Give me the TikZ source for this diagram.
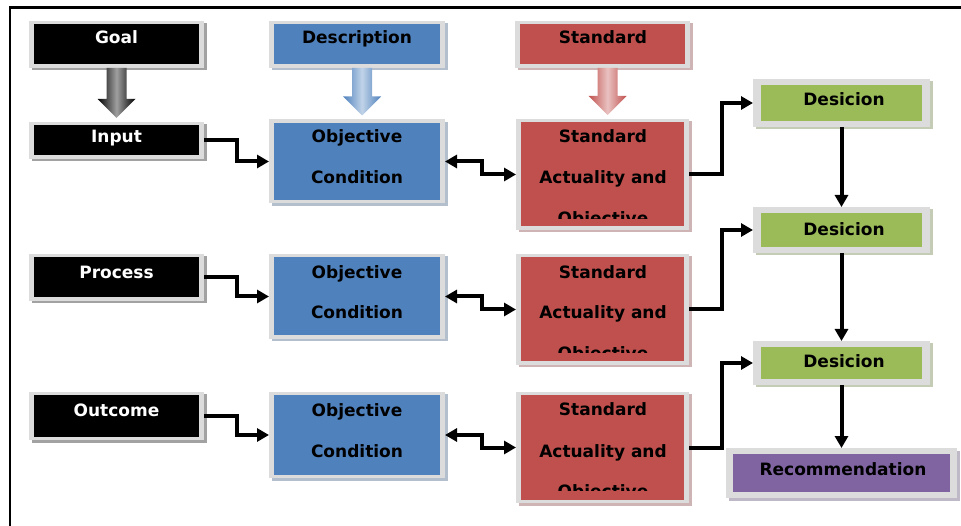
\documentclass[tikz,border=0pt]{standalone}
\usepackage{fontspec}
\setmainfont{DejaVu Sans}
\usetikzlibrary{arrows.meta,calc,shadows}
\definecolor{frameg}{HTML}{DCDCDC}
\definecolor{bblue}{HTML}{4F81BD}
\definecolor{rred}{HTML}{C0504D}
\definecolor{ggreen}{HTML}{9BBB59}
\definecolor{ppurple}{HTML}{8064A2}
\tikzset{
  framex/.store in=\fxx, framey/.store in=\fyy, framex=5pt, framey=3.5pt,
  box/.style={rectangle, inner sep=0pt, outer sep=0pt, fill=frameg,
    drop shadow={shadow xshift=2.5pt, shadow yshift=-2.5pt, fill=#1!45!gray, opacity=0.5},
    path picture={\fill[#1] ([xshift=\fxx,yshift=-\fyy]path picture bounding box.north west)
      rectangle ([xshift=-\fxx,yshift=\fyy]path picture bounding box.south east);}},
  lbl/.style={font=\bfseries\fontsize{17}{17}\selectfont, anchor=base, inner sep=0pt},
  wlbl/.style={lbl, text=white},
  conn/.style={line width=4pt, -{Triangle[length=12pt,width=13pt]}},
  dconn/.style={line width=4pt, {Triangle[length=12pt,width=13pt]}-{Triangle[length=12pt,width=13pt]}},
}
\newcommand\blockarr[5]{%
  \shade[left color=#3, right color=#3, middle color=#4]
    ($(#1.south)+(#5-10,0)$) -- ($(#2.north)+(#5-10,-23)$) -- ($(#2.north)+(#5-19,-23)$)
    -- ($(#2.north)+(#5,-4)$) -- ($(#2.north)+(#5+19,-23)$) -- ($(#2.north)+(#5+10,-23)$)
    -- ($(#1.south)+(#5+10,0)$) -- cycle;}
\begin{document}
\begin{tikzpicture}[x=1pt,y=-1pt]
\useasboundingbox (0,0) rectangle (961,526);
\draw[line width=2.5pt] (10,527) -- (10,7.5) -- (962,7.5);

% black column
\node[box=black, minimum width=175, minimum height=47] (goal) at (116.5,44.5) {};
\node[box=black, minimum width=175, minimum height=37] (input) at (116.5,140.5) {};
\node[box=black, minimum width=175, minimum height=47] (process) at (116.5,277.5) {};
\node[box=black, minimum width=175, minimum height=48] (outcome) at (116.5,416) {};
% blue column
\node[box=bblue, minimum width=176, minimum height=47] (desc) at (357,44.5) {};
\node[box=bblue, minimum width=176, minimum height=84] (obj1) at (357,161.5) {};
\node[box=bblue, minimum width=176, minimum height=85] (obj2) at (357,296.5) {};
\node[box=bblue, minimum width=176, minimum height=86] (obj3) at (357,435) {};
% red column
\node[box=rred, minimum width=175, minimum height=47] (stdtop) at (602.5,44.5) {};
\node[box=rred, minimum width=173, minimum height=111] (std1) at (602.5,174.5) {};
\node[box=rred, minimum width=173, minimum height=111] (std2) at (602.5,309.5) {};
\node[box=rred, minimum width=173, minimum height=111] (std3) at (602.5,447.5) {};
% green column
\node[box=ggreen, framex=8pt, framey=6pt, minimum width=177, minimum height=48] (dec1) at (841.5,103) {};
\node[box=ggreen, framex=8pt, framey=6pt, minimum width=177, minimum height=46] (dec2) at (841.5,230) {};
\node[box=ggreen, framex=8pt, framey=6pt, minimum width=177, minimum height=44] (dec3) at (841.5,363) {};
\node[box=ppurple, framex=7pt, framey=6pt, minimum width=231, minimum height=50] (rec) at (841.5,473) {};

% labels
\node[wlbl] (tgoal) at (116.5,44) {Goal};
\node[wlbl] (tinput) at (116.5,143) {Input};
\node[wlbl] (tprocess) at (116.5,279) {Process};
\node[wlbl] (toutcome) at (116.5,416) {Outcome};
\node[lbl] (tdesc) at (357,44) {Description};
\node[lbl] (tstdtop) at (603,44) {Standard};
\node[lbl] (to1a) at (357,143) {Objective};
\node[lbl] (to1b) at (357,184) {Condition};
\node[lbl] (to2a) at (357,279) {Objective};
\node[lbl] (to2b) at (357,319) {Condition};
\node[lbl] (to3a) at (357,416) {Objective};
\node[lbl] (to3b) at (357,457) {Condition};
\node[lbl] (ts1a) at (603,143) {Standard};
\node[lbl] (ts1b) at (603,184) {Actuality and};
\begin{scope}
  \clip (521,123) rectangle (685,218.5);
  \node[lbl] (ts1c) at (603,225) {Objective};
\end{scope}
\node[lbl] (ts2a) at (603,279) {Standard};
\node[lbl] (ts2b) at (603,319) {Actuality and};
\begin{scope}
  \clip (521,258) rectangle (685,353);
  \node[lbl] (ts2c) at (603,359.5) {Objective};
\end{scope}
\node[lbl] (ts3a) at (603,415) {Standard};
\node[lbl] (ts3b) at (603,457) {Actuality and};
\begin{scope}
  \clip (521,395) rectangle (685,490.5);
  \node[lbl] (ts3c) at (603,497) {Objective};
\end{scope}
\node[lbl] (td1) at (844,106) {Desicion};
\node[lbl] (td2) at (844,236) {Desicion};
\node[lbl] (td3) at (844,368) {Desicion};
\node[lbl] (trec) at (843,475) {Recommendation};

% block arrows
\blockarr{goal}{input}{black}{gray!75}{0}
\blockarr{desc}{obj1}{bblue}{bblue!35!white}{5}
\blockarr{stdtop}{std1}{rred}{rred!35!white}{5}

% connectors
\draw[conn] (input.east) -- ++(33,0) |- (obj1.west);
\draw[conn] (process.east) -- ++(33,0) |- (obj2.west);
\draw[conn] (outcome.east) -- ++(33,0) |- (obj3.west);
\draw[dconn] (obj1.east) -- ++(37,0) |- (std1.west);
\draw[dconn] (obj2.east) -- ++(37,0) |- (std2.west);
\draw[dconn] (obj3.east) -- ++(37,0) |- (std3.west);
\draw[conn] (std1.east) -- ++(33,0) |- (dec1.west);
\draw[conn] (std2.east) -- ++(33,0) |- (dec2.west);
\draw[conn] (std3.east) -- ++(33,0) |- (dec3.west);
\draw[conn] (dec1.south) -- (dec2.north);
\draw[conn] (dec2.south) -- (dec3.north);
\draw[conn] (dec3.south) -- (rec.north);
\end{tikzpicture}
\end{document}
